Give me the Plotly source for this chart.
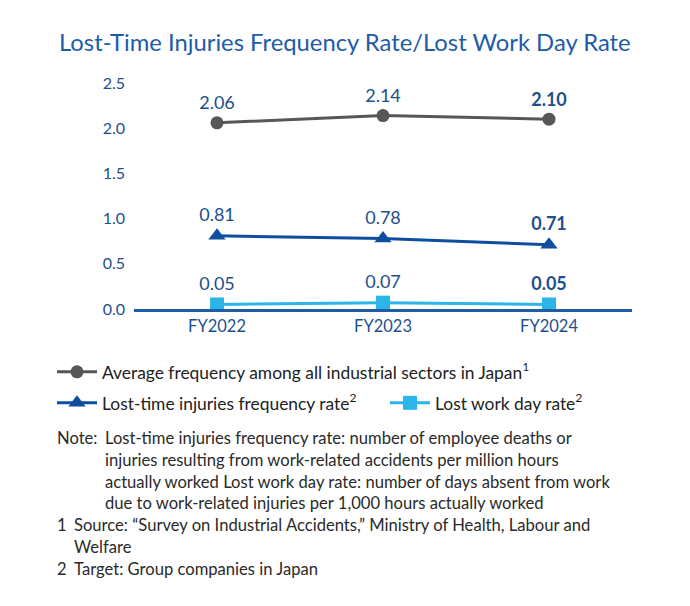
import plotly.graph_objects as go

years = ["FY2022", "FY2023", "FY2024"]
avg_japan = [2.06, 2.14, 2.10]
ltifr = [0.81, 0.78, 0.71]
lwdr = [0.05, 0.07, 0.05]
bold_flags = [False, False, True]

name_avg = "Average frequency among all industrial sectors in Japan<sup>1</sup>"
name_ltifr = "Lost-time injuries frequency rate<sup>2</sup>"
name_lwdr = "Lost work day rate<sup>2</sup>"

title_text = "Lost-Time Injuries Frequency Rate/Lost Work Day Rate"
note_lines = [
    ("Note:", "Lost-time injuries frequency rate: number of employee deaths or"),
    ("", "injuries resulting from work-related accidents per million hours"),
    ("", "actually worked Lost work day rate: number of days absent from work"),
    ("", "due to work-related injuries per 1,000 hours actually worked"),
    ("1", "Source: \u201cSurvey on Industrial Accidents,\u201d Ministry of Health, Labour and"),
    ("", "Welfare"),
    ("2", "Target: Group companies in Japan"),
]

FONT = "Lato"
BLUE_TXT = "#1d4f8c"
AX_BLUE = "#1f5ca6"
GRAY = "#575757"
DARK_BLUE = "#0d4f9e"
LIGHT_BLUE = "#2bb5e8"
NOTE_COL = "#2a2a2a"

W, H = 690, 606
L, R, T, B = 134, 58, 83, 297
pw, ph = W - L - R, H - T - B


def px(x):
    return (x - L) / pw


def py(y):
    return (H - B - y) / ph


def labels(vals):
    return [f"<b>{v:.2f}</b>" if b else f"{v:.2f}" for v, b in zip(vals, bold_flags)]


fig = go.Figure()

fig.add_trace(go.Scatter(
    x=years, y=avg_japan, mode="lines+markers+text", name=name_avg,
    line=dict(color=GRAY, width=3), marker=dict(symbol="circle", size=13, color=GRAY),
    text=labels(avg_japan), textposition="top center",
    textfont=dict(family=FONT, size=18, color=BLUE_TXT), cliponaxis=False,
    legend="legend"))

fig.add_trace(go.Scatter(
    x=years, y=ltifr, mode="lines+markers+text", name=name_ltifr,
    line=dict(color=DARK_BLUE, width=3), marker=dict(symbol="triangle-up", size=15, color=DARK_BLUE),
    text=labels(ltifr), textposition="top center",
    textfont=dict(family=FONT, size=18, color=BLUE_TXT), cliponaxis=False,
    legend="legend2"))

fig.add_trace(go.Scatter(
    x=years, y=lwdr, mode="lines", showlegend=False, hoverinfo="skip",
    line=dict(color="white", width=6), cliponaxis=False))

fig.add_trace(go.Scatter(
    x=years, y=lwdr, mode="lines+markers+text", name=name_lwdr,
    line=dict(color=LIGHT_BLUE, width=3), marker=dict(symbol="square", size=14, color=LIGHT_BLUE),
    text=labels(lwdr), textposition="top center",
    textfont=dict(family=FONT, size=18, color=BLUE_TXT), cliponaxis=False,
    legend="legend3"))

annotations = [dict(
    text=title_text, xref="paper", yref="paper", x=px(57), y=py(42),
    xanchor="left", yanchor="middle", showarrow=False,
    font=dict(family=FONT, size=23.8, color=AX_BLUE))]

line_ys = [438, 460, 482, 503, 525, 547, 569]
for i, ((lead, body), yy) in enumerate(zip(note_lines, line_ys)):
    if lead:
        annotations.append(dict(
            text=lead, xref="paper", yref="paper", x=px(55), y=py(yy),
            xanchor="left", yanchor="middle", showarrow=False,
            font=dict(family=FONT, size=16.6, color=NOTE_COL)))
    indent = 103 if i < 4 else 72
    annotations.append(dict(
        text=body, xref="paper", yref="paper", x=px(indent), y=py(yy),
        xanchor="left", yanchor="middle", showarrow=False,
        font=dict(family=FONT, size=16.6, color=NOTE_COL)))

legend_common = dict(orientation="h", xanchor="left", yanchor="middle",
                     font=dict(family=FONT, size=17.4, color="#222222"), itemwidth=40,
                     bgcolor="rgba(0,0,0,0)")

fig.update_layout(
    width=W, height=H,
    margin=dict(l=L, r=R, t=T, b=B, autoexpand=False),
    paper_bgcolor="white", plot_bgcolor="white",
    font=dict(family=FONT, size=16, color="#222222"),
    xaxis=dict(type="category", range=[-0.5, 2.5], showgrid=False, zeroline=False,
               showline=True, linecolor=AX_BLUE, linewidth=2.5,
               ticks="", tickfont=dict(family=FONT, size=16.5, color=BLUE_TXT)),
    yaxis=dict(range=[0, 2.5], tickvals=[0, 0.5, 1.0, 1.5, 2.0, 2.5],
               ticktext=["0.0", "0.5", "1.0", "1.5", "2.0", "2.5"],
               showgrid=False, zeroline=False, showline=False, ticks="",
               ticklabelstandoff=8,
               tickfont=dict(family=FONT, size=16, color=BLUE_TXT)),
    legend=dict(x=px(52), y=py(372), **legend_common),
    legend2=dict(x=px(52), y=py(403), **legend_common),
    legend3=dict(x=px(385), y=py(403), **legend_common),
    annotations=annotations,
    showlegend=True,
)

fig.write_html("out.html")
